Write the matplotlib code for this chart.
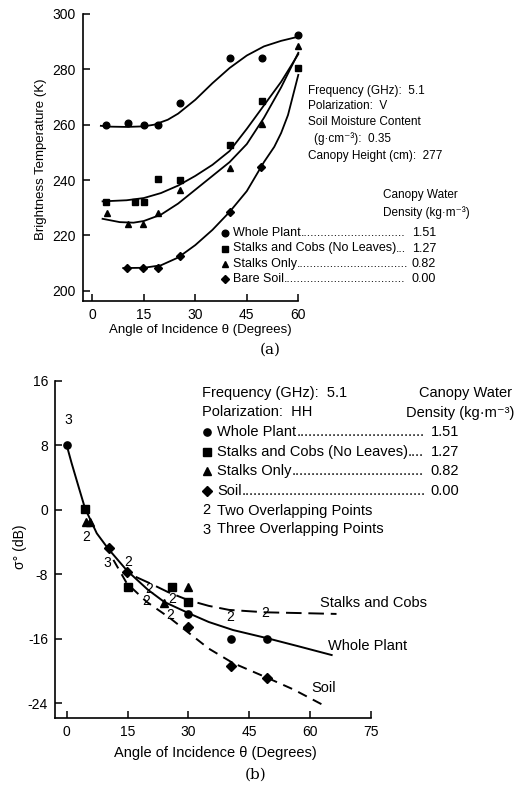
import matplotlib
matplotlib.use("Agg")
import matplotlib.pyplot as plt

plt.rcParams['font.family'] = ['Liberation Sans', 'DejaVu Sans']
plt.rcParams['axes.unicode_minus'] = False

W, H = 515, 788

# ---- panel (a): brightness temperature, measured points ----
ang_a_whole = [4, 10.5, 15, 19, 25.5, 40, 49.5, 60]
tb_whole = [260, 260.5, 260, 260, 268, 284, 284, 292.4]
ang_a_cobs = [4, 12.5, 15, 19, 25.5, 40, 49.5, 60]
tb_cobs = [232, 232, 232, 240.4, 240, 252.5, 268.5, 280.4]
ang_a_stalks = [4.3, 10.4, 14.8, 19, 25.5, 40, 49.5, 60]
tb_stalks = [228, 224.2, 224.2, 228, 236.4, 244.2, 260.4, 288.3]
ang_a_soil = [10, 14.8, 19, 25.5, 40, 49]
tb_soil = [208.3, 208.3, 208.3, 212.4, 228.5, 244.8]

# panel (a): fitted curves as drawn in the figure
fit_a_x_whole = [2.5, 5, 10, 15, 18, 22, 25, 30, 35, 40, 45, 50, 55, 59]
fit_a_whole = [259.6, 259.3, 259.2, 259.4, 260, 261.8, 264, 269, 275, 280.5, 285, 288.3, 290.3, 291.5]
fit_a_x_cobs = [3, 10, 15, 20, 25, 30, 35, 40, 45, 50, 55, 60]
fit_a_cobs = [232.3, 232.7, 233.5, 235.3, 238, 241.5, 245.5, 250.5, 258.5, 267, 275.5, 285.5]
fit_a_x_stalks = [3, 8, 12, 15, 20, 25, 30, 35, 40, 45, 50, 55, 60]
fit_a_stalks = [226, 224.8, 224.6, 225.2, 227.5, 231.5, 236.5, 241.5, 246.5, 253, 262.5, 273.5, 286]
fit_a_x_soil = [9, 15, 20, 25, 30, 35, 40, 45, 50, 53, 55, 57, 60]
fit_a_soil = [208.2, 208.3, 209.2, 212, 216.5, 222, 228.5, 236, 246.5, 252, 257, 263.5, 278]

# ---- panel (b): backscatter, measured points ----
ang_b_whole = [0, 30, 40.6, 49.4]
sig_whole = [8, -12.9, -16, -16]
ang_b_cobs = [4.5, 15.2, 26, 30]
sig_cobs = [0.1, -9.6, -9.5, -11.4]
ang_b_stalks = [4.8, 5.8, 24, 30]
sig_stalks = [-1.5, -1.5, -11.5, -9.6]
ang_b_soil = [10.3, 14.8, 30, 40.6, 49.4]
sig_soil = [-4.75, -7.7, -14.5, -19.35, -20.8]

two_x = [4.7, 15.2, 20.3, 19.6, 26.1, 25.6, 40.3, 49]
two_y = [-3.3, -6.4, -9.8, -11.3, -11.1, -13, -13.3, -12.8]
three_x = [0.3, 9.9]
three_y = [11.2, -6.6]

# panel (b): curves as drawn
fit_b_x_whole = [0, 1.2, 2.9, 4.5, 7.4, 10.2, 14.8, 20, 24, 30, 35, 41, 49.3, 57, 65.3]
fit_b_whole = [8, 5.8, 2.9, 0.2, -2.9, -4.8, -7.5, -9.9, -11.4, -12.8, -13.9, -14.9, -15.9, -16.9, -18]
fit_b_x_cobs = [17, 20.5, 25, 30, 35, 40, 49, 58, 66.5]
fit_b_cobs = [-8.3, -9.1, -10.2, -11.2, -11.9, -12.4, -12.7, -12.8, -12.9]
fit_b_x_soil = [11.5, 14.8, 19.7, 25.4, 30.2, 35, 41, 49.3, 56, 62.8]
fit_b_soil = [-6.2, -9.1, -11.4, -13.4, -15.3, -17.2, -19, -20.8, -22.3, -24.1]

legend_names = ['Whole Plant', 'Stalks and Cobs (No Leaves)', 'Stalks Only']
legend_values = ['1.51', '1.27', '0.82', '0.00']
markers = ['o', 's', '^', 'D']


def fx(x):
    return x / W


def fy(y):
    return 1 - y / H


def style_axes(ax):
    for s in ('top', 'right'):
        ax.spines[s].set_visible(False)
    for s in ('left', 'bottom'):
        ax.spines[s].set_linewidth(1.2)
    ax.tick_params(direction='in', length=5, width=1.1, labelsize=10, pad=5)


def msize(m, base):
    return base - 0.5 if m == 'D' else base


fig = plt.figure(figsize=(W / 100, H / 100), dpi=100)
renderer = fig.canvas.get_renderer()


def leader_row(x0, x1, y, name, value, size):
    t = fig.text(fx(x0), fy(y), name, fontsize=size, va='center')
    v = fig.text(fx(x1), fy(y), value, fontsize=size, va='center', ha='right')
    probe = fig.text(0, 0, '.' * 20, fontsize=size)
    dot_w = probe.get_window_extent(renderer).width / 20
    probe.remove()
    right = t.get_window_extent(renderer).x1
    gap = v.get_window_extent(renderer).x0 - right
    n = max(int(gap / dot_w) - 1, 0)
    fig.text(right / W, fy(y), '.' * n, fontsize=size, va='center')


# ---------------- panel (a) ----------------
ax1 = fig.add_axes([fx(83), fy(301), (298.3 - 83) / W, (301 - 14) / H])
style_axes(ax1)
ax1.set_xlim(-2.7, 60)
ax1.set_ylim(196.3, 300)
ax1.set_xticks([0, 15, 30, 45, 60])
ax1.set_yticks([200, 220, 240, 260, 280, 300])

for cx, cy in [(fit_a_x_whole, fit_a_whole), (fit_a_x_cobs, fit_a_cobs),
               (fit_a_x_stalks, fit_a_stalks), (fit_a_x_soil, fit_a_soil)]:
    ax1.plot(cx, cy, color='black', lw=1.3, clip_on=False)
for (xs, ys), m in zip([(ang_a_whole, tb_whole), (ang_a_cobs, tb_cobs),
                        (ang_a_stalks, tb_stalks), (ang_a_soil, tb_soil)], markers):
    ax1.plot(xs, ys, m, color='black', ms=msize(m, 4.8), clip_on=False)

ax1.set_ylabel('Brightness Temperature (K)', fontsize=9.5)
ax1.yaxis.set_label_coords(-0.167, 0.495)
ax1.set_xlabel('Angle of Incidence \u03b8 (Degrees)', fontsize=9.5, va='center')
ax1.xaxis.set_label_coords(0.543, -0.101)

s_a = 8.5
fig.text(fx(308), fy(91), 'Frequency (GHz):  5.1', fontsize=s_a, va='center')
fig.text(fx(308), fy(106), 'Polarization:  V', fontsize=s_a, va='center')
fig.text(fx(308), fy(122), 'Soil Moisture Content', fontsize=s_a, va='center')
fig.text(fx(314), fy(139), '(g\u00b7cm\u207b\u00b3):  0.35', fontsize=s_a, va='center')
fig.text(fx(308), fy(156), 'Canopy Height (cm):  277', fontsize=s_a, va='center')
fig.text(fx(420), fy(195), 'Canopy Water', fontsize=s_a, va='center', ha='center')
fig.text(fx(426), fy(213), 'Density (kg\u00b7m\u207b\u00b3)', fontsize=s_a, va='center', ha='center')

rows_a = legend_names + ['Bare Soil']
for i, (name, val, m) in enumerate(zip(rows_a, legend_values, markers)):
    y = 233 + i * 15.5
    fig.lines.append(plt.Line2D([fx(225)], [fy(y)], marker=m, color='black',
                                ms=msize(m, 4.8), transform=fig.transFigure))
    leader_row(233, 436, y, name, val, 9)

fig.text(fx(270), fy(350), '(a)', fontsize=11, family='DejaVu Serif',
         ha='center', va='center')

# ---------------- panel (b) ----------------
ax2 = fig.add_axes([fx(55), fy(718.3), (371 - 55) / W, (718.3 - 381) / H])
style_axes(ax2)
ax2.set_xlim(-2.9, 75)
ax2.set_ylim(-25.85, 16)
ax2.set_xticks([0, 15, 30, 45, 60, 75])
ax2.set_yticks([-24, -16, -8, 0, 8, 16])

ax2.plot(fit_b_x_whole, fit_b_whole, color='black', lw=1.4)
ax2.plot(fit_b_x_cobs, fit_b_cobs, color='black', lw=1.4, dashes=(8, 3.5))
ax2.plot(fit_b_x_soil, fit_b_soil, color='black', lw=1.4, dashes=(5, 3.5))
for (xs, ys), m in zip([(ang_b_whole, sig_whole), (ang_b_cobs, sig_cobs),
                        (ang_b_stalks, sig_stalks), (ang_b_soil, sig_soil)], markers):
    ax2.plot(xs, ys, m, color='black', ms=msize(m, 5.2), ls='none')
for x, y in zip(two_x, two_y):
    ax2.text(x, y, '2', fontsize=10, ha='center', va='center')
for x, y in zip(three_x, three_y):
    ax2.text(x, y, '3', fontsize=10, ha='center', va='center')

ax2.text(62.4, -11.5, 'Stalks and Cobs', fontsize=10.5, va='center')
ax2.text(64.4, -16.9, 'Whole Plant', fontsize=10.5, va='center')
ax2.text(60.4, -22.1, 'Soil', fontsize=10.5, va='center')

ax2.set_ylabel('\u03c3\u00b0 (dB)', fontsize=10, va='center')
ax2.yaxis.set_label_coords(-0.111, 0.508)
ax2.set_xlabel('Angle of Incidence \u03b8 (Degrees)', fontsize=10.5, va='center')
ax2.xaxis.set_label_coords(0.509, -0.103)

s_b = 10.5
fig.text(fx(202), fy(393), 'Frequency (GHz):  5.1', fontsize=s_b, va='center')
fig.text(fx(202), fy(412), 'Polarization:  HH', fontsize=s_b, va='center')
fig.text(fx(512), fy(393), 'Canopy Water', fontsize=s_b, va='center', ha='right')
fig.text(fx(514), fy(413), 'Density (kg\u00b7m\u207b\u00b3)', fontsize=s_b, va='center', ha='right')

rows_b = legend_names + ['Soil']
for i, (name, val, m) in enumerate(zip(rows_b, legend_values, markers)):
    y = 432 + i * 19.5
    fig.lines.append(plt.Line2D([fx(206.5)], [fy(y)], marker=m, color='black',
                                ms=msize(m, 5.2), transform=fig.transFigure))
    leader_row(217, 459, y, name, val, s_b)
fig.text(fx(202), fy(510.5), '2', fontsize=s_b, va='center')
fig.text(fx(217), fy(510.5), 'Two Overlapping Points', fontsize=s_b, va='center')
fig.text(fx(202), fy(529.5), '3', fontsize=s_b, va='center')
fig.text(fx(217), fy(529.5), 'Three Overlapping Points', fontsize=s_b, va='center')

fig.text(fx(256), fy(775), '(b)', fontsize=11, family='DejaVu Serif',
         ha='center', va='center')

fig.savefig('out.png', dpi=100)
